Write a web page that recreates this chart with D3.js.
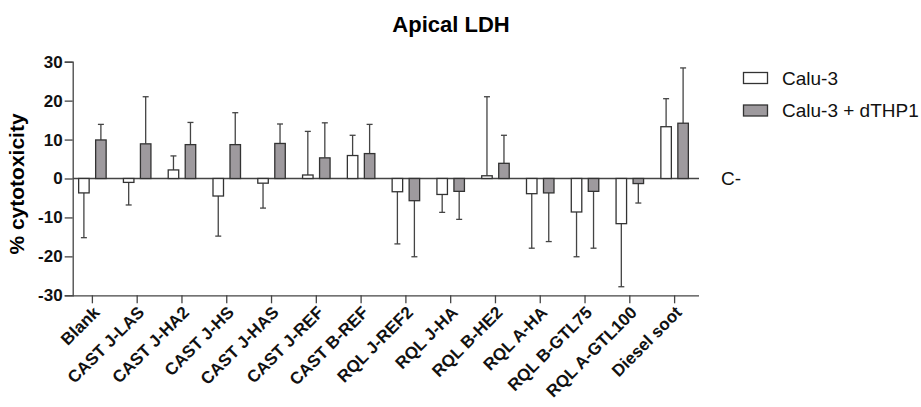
<!DOCTYPE html>
<html>
<head>
<meta charset="utf-8">
<script src="https://cdn.jsdelivr.net/npm/d3@7"></script>
<style>
body { margin: 0; background: #fff; }
text { font-family: "Liberation Sans", Arial, sans-serif; }
</style>
</head>
<body>
<svg id="chart" width="921" height="407"></svg>
<script>
var categories = ["Blank", "CAST J-LAS", "CAST J-HA2", "CAST J-HS", "CAST J-HAS", "CAST J-REF",
    "CAST B-REF", "RQL J-REF2", "RQL J-HA", "RQL B-HE2", "RQL A-HA", "RQL B-GTL75",
    "RQL A-GTL100", "Diesel soot"];
var seriesNames = ["Calu-3", "Calu-3 + dTHP1"];
var calu3 = [-3.7, -1.0, 2.2, -4.5, -1.2, 0.9, 5.9, -3.4, -4.1, 0.7, -3.9, -8.6, -11.6, 13.3];
var calu3Err = [-15.2, -6.8, 5.8, -14.8, -7.6, 12.1, 11.1, -16.8, -8.7, 21.0, -17.9, -20.1, -27.8, 20.5];
var coculture = [9.9, 8.9, 8.7, 8.7, 9.0, 5.3, 6.4, -5.7, -3.3, 3.9, -3.7, -3.3, -1.3, 14.2];
var cocultureErr = [13.9, 21.0, 14.4, 16.9, 14.0, 14.3, 13.9, -20.1, -10.5, 11.1, -16.2, -17.9, -6.3, 28.4];
var yTicks = [30, 20, 10, 0, -10, -20, -30];
var fills = ["#ffffff", "#9e9a9e"];

var svg = d3.select("#chart");
var axisColor = "#444";

var x = d3.scaleBand().domain(categories).range([70, 697]);
var y = d3.scaleLinear().domain([-30, 30]).range([295.3, 61.7]);

// title
svg.append("text")
    .attr("x", 451).attr("y", 32)
    .attr("text-anchor", "middle")
    .style("font-size", "22px").style("font-weight", "bold")
    .text("Apical LDH");

// y axis label
svg.append("text")
    .attr("transform", "translate(24,184) rotate(-90)")
    .attr("text-anchor", "middle")
    .style("font-size", "21px").style("font-weight", "bold")
    .text("% cytotoxicity");

// y axis
var yAxis = svg.append("g")
    .attr("transform", "translate(72.7,0)")
    .call(d3.axisLeft(y).tickValues(yTicks).tickSize(8).tickPadding(2)
        .tickFormat(function(d) { return String(d); }));
yAxis.selectAll("text").style("font-size", "17px").style("font-weight", "bold").attr("fill", "#111");

// x axis at bottom
var xAxis = svg.append("g")
    .attr("transform", "translate(0,295.3)")
    .call(d3.axisBottom(x).tickSize(8).tickSizeOuter(0).tickPadding(3));
xAxis.select(".domain").attr("d", "M72.7,0.5H699");
xAxis.selectAll("text")
    .style("font-size", "17px").style("font-weight", "bold").attr("fill", "#111")
    .attr("text-anchor", "end")
    .attr("transform", "translate(4,14) rotate(-45)")
    .attr("dy", "0.35em").attr("y", 0).attr("x", 0);

[yAxis, xAxis].forEach(function(a) {
    a.selectAll(".domain, .tick line").attr("stroke", axisColor).attr("stroke-width", 1.3);
});

// zero line
svg.append("line")
    .attr("x1", 72.7).attr("x2", 699)
    .attr("y1", y(0)).attr("y2", y(0))
    .attr("stroke", axisColor).attr("stroke-width", 1.3);

var rows = categories.map(function(c, i) {
    return { key: c, vals: [calu3[i], coculture[i]], errs: [calu3Err[i], cocultureErr[i]] };
});

var barW = 10.5, gap = 6.5;
function barX(d, s) {
    var c = x(d.key) + x.bandwidth() / 2;
    return s == 0 ? c - gap / 2 - barW : c + gap / 2;
}

var groups = svg.selectAll("g.cat")
    .data(rows)
    .enter().append("g")
    .attr("class", "cat");

[0, 1].forEach(function(s) {
    // error bars
    groups.append("line")
        .attr("x1", function(d) { return barX(d, s) + barW / 2; })
        .attr("x2", function(d) { return barX(d, s) + barW / 2; })
        .attr("y1", function(d) { return y(d.vals[s]); })
        .attr("y2", function(d) { return y(d.errs[s]); })
        .attr("stroke", "#444").attr("stroke-width", 1.3);
    groups.append("line")
        .attr("x1", function(d) { return barX(d, s) + barW / 2 - 3; })
        .attr("x2", function(d) { return barX(d, s) + barW / 2 + 3; })
        .attr("y1", function(d) { return y(d.errs[s]); })
        .attr("y2", function(d) { return y(d.errs[s]); })
        .attr("stroke", "#444").attr("stroke-width", 1.3);
    groups.append("rect")
        .attr("x", function(d) { return barX(d, s); })
        .attr("width", barW)
        .attr("y", function(d) { return y(Math.max(0, d.vals[s])); })
        .attr("height", function(d) { return Math.abs(y(d.vals[s]) - y(0)); })
        .attr("fill", fills[s])
        .attr("stroke", "#333").attr("stroke-width", 1.3);
});

// C- label
svg.append("text")
    .attr("x", 721).attr("y", y(0)).attr("dy", "0.35em")
    .style("font-size", "19px").attr("fill", "#111")
    .text("C-");

// legend
var legend = svg.selectAll("g.legend")
    .data(seriesNames)
    .enter().append("g")
    .attr("class", "legend")
    .attr("transform", function(d, i) { return "translate(743.5," + (72.5 + i * 32.5) + ")"; });
legend.append("rect")
    .attr("width", 24).attr("height", 11)
    .attr("fill", function(d, i) { return fills[i]; })
    .attr("stroke", "#333").attr("stroke-width", 1.3);
legend.append("text")
    .attr("x", 38.5).attr("y", 5.5).attr("dy", "0.35em")
    .style("font-size", "19px").attr("fill", "#111")
    .text(function(d) { return d; });
</script>
</body>
</html>
